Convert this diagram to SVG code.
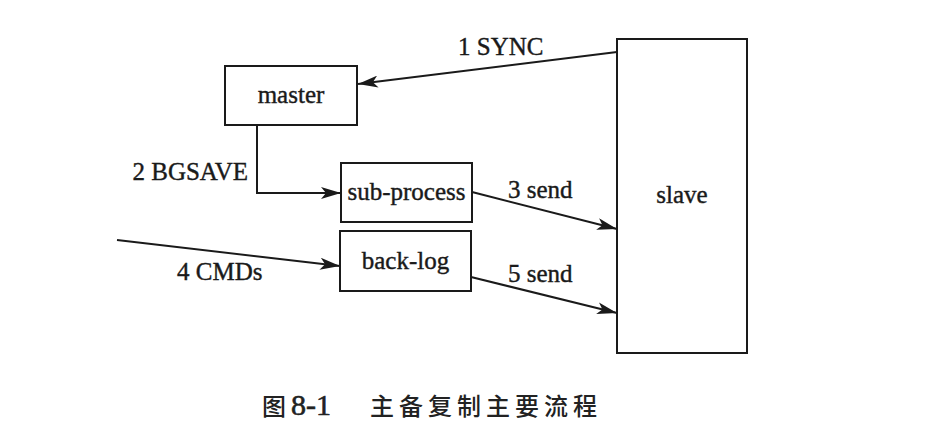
<svg xmlns="http://www.w3.org/2000/svg" width="928" height="438" viewBox="0 0 928 438">
<style>
.box{fill:#fff;stroke:#1a1a1a;stroke-width:2}
.lbl{font-family:"Liberation Serif","Times New Roman",serif;font-size:25px;fill:#1a1a1a;stroke:#1a1a1a;stroke-width:0.4}
.ln{fill:none;stroke:#1a1a1a;stroke-width:2}
.cap{font-family:"Noto Sans CJK SC","Noto Sans",sans-serif;font-size:24px;fill:#222;font-weight:500}
</style>
<defs>
<marker id="ah" viewBox="0 0 20 12" refX="20" refY="6" markerWidth="20" markerHeight="12" markerUnits="userSpaceOnUse" orient="auto">
<path d="M0,0 L20,6 L0,12 L5,6 Z" fill="#1a1a1a"/>
</marker>
</defs>
<rect width="928" height="438" fill="#fff"/>
<g id="connectors">
<line class="ln" x1="617" y1="52" x2="358" y2="84" marker-end="url(#ah)"/>
<polyline class="ln" points="257,125 257,193 341,193" marker-end="url(#ah)"/>
<line class="ln" x1="472" y1="192" x2="617" y2="229" marker-end="url(#ah)"/>
<line class="ln" x1="117" y1="240" x2="340" y2="266" marker-end="url(#ah)"/>
<line class="ln" x1="471" y1="277" x2="617" y2="313" marker-end="url(#ah)"/>
<text class="lbl" x="458" y="55">1 SYNC</text>
<text class="lbl" x="248" y="180" text-anchor="end">2 BGSAVE</text>
<text class="lbl" x="508" y="198">3 send</text>
<text class="lbl" x="177" y="280">4 CMDs</text>
<text class="lbl" x="508" y="282">5 send</text>
</g>
<g id="master">
<rect class="box" x="225" y="66" width="132" height="59"/>
<text class="lbl" x="291" y="103" text-anchor="middle">master</text>
</g>
<g id="sub-process">
<rect class="box" x="341" y="163" width="131" height="59"/>
<text class="lbl" x="406.5" y="200" text-anchor="middle">sub-process</text>
</g>
<g id="back-log">
<rect class="box" x="340" y="231" width="131" height="60"/>
<text class="lbl" x="405.5" y="269" text-anchor="middle">back-log</text>
</g>
<g id="slave">
<rect class="box" x="617" y="39" width="130" height="314"/>
<text class="lbl" x="682" y="203" text-anchor="middle">slave</text>
</g>
<g id="caption">
<text class="cap" x="262" y="415">图</text>
<text class="cap" x="291" y="415" style="font-family:'Liberation Serif',serif;font-size:30px;stroke:#222;stroke-width:0.6">8-1</text>
<text class="cap" x="370" y="415" letter-spacing="5">主备复制主要流程</text>
</g>
</svg>
